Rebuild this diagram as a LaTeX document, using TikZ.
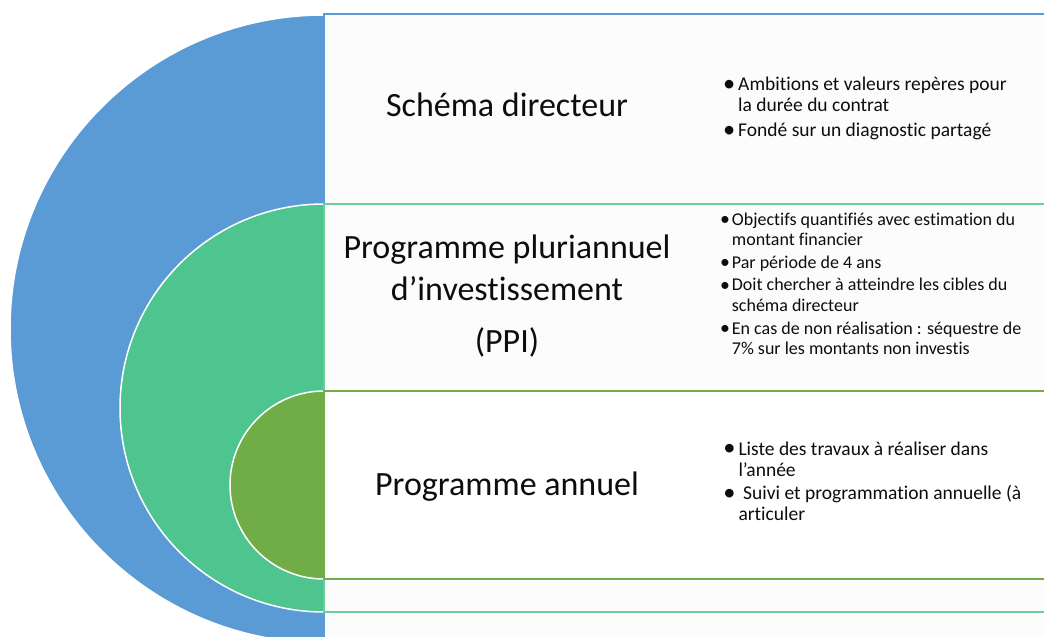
\documentclass[tikz,border=0pt]{standalone}
\usepackage{fontspec}
\usepackage{graphicx}
\setmainfont{Carlito}[Ligatures=NoCommon]
\definecolor{cblue}{HTML}{5B9BD5}
\definecolor{cgreen}{HTML}{4EC58E}
\definecolor{cgreenline}{HTML}{6ACF9E}
\definecolor{colive}{HTML}{70AD47}
\definecolor{cpanel}{HTML}{FCFCFC}
\definecolor{ctext}{HTML}{0D0D0D}
\tikzset{
  disc/.style={fill=#1, draw=white, line width=1.5pt},
  panel/.style={fill=#1},
  heading/.style={anchor=base, inner sep=0pt, text=ctext, font=\fontsize{34}{40}\selectfont},
  bullets/.style={anchor=base west, inner sep=0pt, text=ctext},
}
\newcommand{\bul}[1]{\makebox[#1][l]{\hspace*{-1.2pt}\raisebox{-0.04em}{\scalebox{1.25}{•}}}}
\newcommand{\sbul}[1]{\makebox[#1][l]{\hspace*{-0.5pt}\raisebox{-0.02em}{\scalebox{1.1}{•}}}}
\begin{document}
\begin{tikzpicture}[x=1pt,y=-1pt]
\useasboundingbox (0,0) rectangle (1044,637);
\clip (0,0) rectangle (1044,637);
\fill[white] (0,0) rectangle (1044,637);
% blue level
\path[disc=cblue] (324,329) circle[radius=314pt];
\path[panel=cpanel] (324,14) rectangle (1050,700);
\draw[cblue, line width=1.5pt] (1050,14) -- (324,14) -- (324,700);
% green level
\path[disc=cgreen] (324,408) circle[radius=204pt];
\path[panel=cpanel] (324,204) rectangle (1050,612);
\draw[cgreenline, line width=2pt] (1050,204) -- (324,204) -- (324,612) -- (1050,612);
% olive level
\path[disc=colive] (324,485) circle[radius=94pt];
\path[panel=white] (324,391) rectangle (1050,579);
\draw[colive, line width=1.5pt] (1050,391) -- (324,391) -- (324,579) -- (1050,579);
% headings
\node[heading] (h1) at (507,116) {Schéma directeur};
\node[heading] (h2a) at (507,258) {Programme pluriannuel};
\node[heading] (h2b) at (507,300) {d’investissement};
\node[heading] (h2c) at (507,352) {(PPI)};
\node[heading] (h3) at (507,495) {Programme annuel};
% bullet texts
\node[bullets, font=\fontsize{19.5}{20.3}\selectfont] (t1) at (724,90.7) {\parbox[t]{320pt}{\raggedright
\bul{14pt}Ambitions et valeurs repères pour\\
\hspace*{14pt}la durée du contrat\\[5.4pt]
\bul{14pt}Fondé sur un diagnostic partagé}};
\node[bullets, font=\fontsize{18}{20.3}\selectfont] (t2) at (720.5,225) {\parbox[t]{330pt}{\raggedright
\sbul{11.2pt}Objectifs quantifiés avec estimation du\\
\hspace*{11.2pt}montant financier\\[2.6pt]
\sbul{11.2pt}Par période de 4 ans\\[2.4pt]
\sbul{11.2pt}Doit chercher à atteindre les cibles du\\
\hspace*{11.2pt}schéma directeur\\[2.6pt]
\sbul{11.2pt}En cas de non réalisation : séquestre de\\
\hspace*{11.2pt}7\% sur les montants non investis}};
\node[bullets, font=\fontsize{19.5}{21.2}\selectfont] (t3) at (724.3,455) {\parbox[t]{320pt}{\raggedright
\bul{14pt}Liste des travaux à réaliser dans\\
\hspace*{14pt}l’année\\[2.2pt]
\bul{14pt}\hspace*{4.7pt}Suivi et programmation annuelle (à\\
\hspace*{14pt}articuler}};
\end{tikzpicture}
\end{document}
